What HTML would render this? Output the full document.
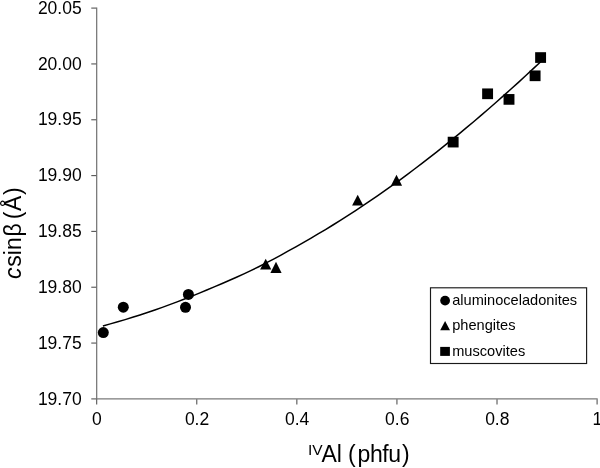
<!DOCTYPE html>
<html><head><meta charset="utf-8"><title>chart</title>
<style>
html,body{margin:0;padding:0;background:#fff;}
svg{display:block;}
text{font-family:"Liberation Sans",Arial,sans-serif;fill:#000;}
.tk{font-size:17.5px;}
.lb{font-size:23px;}
.lg{font-size:14.6px;}
</style></head><body>
<svg width="600" height="468" viewBox="0 0 600 468">
<rect width="600" height="468" fill="#fff"/>
<g stroke="#7a7a7a" stroke-width="1.3" fill="none">
<line x1="96.67" y1="7.5" x2="96.67" y2="399.54999999999995"/>
<line x1="96.02" y1="398.9" x2="597.7" y2="398.9"/>
</g>
<g stroke="#5c5c5c" stroke-width="1.15" fill="none">
<line x1="91.27" y1="8.10" x2="96.37" y2="8.10"/>
<line x1="91.27" y1="63.93" x2="96.37" y2="63.93"/>
<line x1="91.27" y1="119.76" x2="96.37" y2="119.76"/>
<line x1="91.27" y1="175.59" x2="96.37" y2="175.59"/>
<line x1="91.27" y1="231.41" x2="96.37" y2="231.41"/>
<line x1="91.27" y1="287.24" x2="96.37" y2="287.24"/>
<line x1="91.27" y1="343.07" x2="96.37" y2="343.07"/>
<line x1="91.27" y1="398.90" x2="96.37" y2="398.90"/>
<line x1="96.67" y1="399.2" x2="96.67" y2="404.59999999999997"/>
<line x1="196.76" y1="399.2" x2="196.76" y2="404.59999999999997"/>
<line x1="296.84" y1="399.2" x2="296.84" y2="404.59999999999997"/>
<line x1="396.93" y1="399.2" x2="396.93" y2="404.59999999999997"/>
<line x1="497.01" y1="399.2" x2="497.01" y2="404.59999999999997"/>
<line x1="597.10" y1="399.2" x2="597.10" y2="404.59999999999997"/>
</g>
<text class="tk" x="81.7" y="13.65" text-anchor="end">20.05</text>
<text class="tk" x="81.7" y="69.54" text-anchor="end">20.00</text>
<text class="tk" x="81.7" y="125.42" text-anchor="end">19.95</text>
<text class="tk" x="81.7" y="181.31" text-anchor="end">19.90</text>
<text class="tk" x="81.7" y="237.19" text-anchor="end">19.85</text>
<text class="tk" x="81.7" y="293.08" text-anchor="end">19.80</text>
<text class="tk" x="81.7" y="348.96" text-anchor="end">19.75</text>
<text class="tk" x="81.7" y="404.85" text-anchor="end">19.70</text>
<text class="tk" x="96.97" y="425.4" text-anchor="middle">0</text>
<text class="tk" x="197.06" y="425.4" text-anchor="middle">0.2</text>
<text class="tk" x="297.14" y="425.4" text-anchor="middle">0.4</text>
<text class="tk" x="397.23" y="425.4" text-anchor="middle">0.6</text>
<text class="tk" x="497.31" y="425.4" text-anchor="middle">0.8</text>
<text class="tk" x="597.40" y="425.4" text-anchor="middle">1</text>
<text class="lb" x="321.4" y="462.3">Al</text>
<text class="lb" x="348.1" y="462.3">(</text>
<text class="lb" x="357.6" y="462.3" letter-spacing="-0.45">phfu</text>
<text class="lb" x="401.9" y="462.3">)</text>
<text x="308.0" y="454.9" font-size="15.5">IV</text>
<text class="lb" transform="translate(20.8,278.9) rotate(-90)"><tspan font-style="italic">c</tspan><tspan dx="0.7">sin</tspan><tspan dx="0.9">β</tspan> <tspan dx="-2.6">(</tspan><tspan dx="0.8">Å</tspan><tspan dx="0.5">)</tspan></text>
<path d="M102.90,325.92 L110.32,323.90 L117.74,321.79 L125.16,319.60 L132.58,317.32 L140.00,314.96 L147.42,312.51 L154.84,309.98 L162.26,307.37 L169.68,304.67 L177.10,301.89 L184.52,299.03 L191.94,296.10 L199.36,293.09 L206.78,290.03 L214.21,286.92 L221.63,283.77 L229.05,280.56 L236.47,277.26 L243.89,273.86 L251.31,270.35 L258.73,266.71 L266.15,262.94 L273.57,259.05 L280.99,255.05 L288.41,250.96 L295.83,246.80 L303.25,242.58 L310.67,238.30 L318.09,233.96 L325.51,229.52 L332.93,225.00 L340.35,220.37 L347.77,215.66 L355.19,210.85 L362.61,205.95 L370.03,200.95 L377.45,195.86 L384.87,190.68 L392.29,185.40 L399.71,180.03 L407.13,174.57 L414.55,169.02 L421.97,163.38 L429.39,157.64 L436.82,151.83 L444.24,145.92 L451.66,139.93 L459.08,133.85 L466.50,127.69 L473.92,121.45 L481.34,115.13 L488.76,108.73 L496.18,102.24 L503.60,95.68 L511.02,89.04 L518.44,82.33 L525.86,75.54 L533.28,68.67 L540.70,61.73" fill="none" stroke="#000" stroke-width="1.5"/>
<circle cx="103.3" cy="332.6" r="5.5"/>
<circle cx="123.3" cy="307.2" r="5.5"/>
<circle cx="185.5" cy="307.3" r="5.5"/>
<circle cx="188.4" cy="294.4" r="5.5"/>
<polygon points="265.7,258.7 271.3,269.59999999999997 260.09999999999997,269.59999999999997"/>
<polygon points="276.0,261.7 281.6,273.0 270.4,273.0"/>
<polygon points="357.7,194.7 363.3,205.6 352.09999999999997,205.6"/>
<polygon points="396.5,174.7 402.1,185.79999999999998 390.9,185.79999999999998"/>
<rect x="447.70" y="136.75" width="10.9" height="10.7"/>
<rect x="482.15" y="88.45" width="10.9" height="10.7"/>
<rect x="503.55" y="94.05" width="10.9" height="10.7"/>
<rect x="529.65" y="70.45" width="10.9" height="10.7"/>
<rect x="535.15" y="52.20" width="10.9" height="10.7"/>
<rect x="430.5" y="287.8" width="156.1" height="75.7" fill="#fff" stroke="#1a1a1a" stroke-width="1.15"/>
<circle cx="445.1" cy="300.6" r="4.9"/>
<polygon points="445.1,321.1 450.0,330.3 440.2,330.3"/>
<rect x="440.2" y="346.9" width="9.7" height="9.0"/>
<text class="lg" x="452.2" y="305.0">aluminoceladonites</text>
<text class="lg" x="452.2" y="329.9">phengites</text>
<text class="lg" x="452.2" y="355.6">muscovites</text>
</svg></body></html>
